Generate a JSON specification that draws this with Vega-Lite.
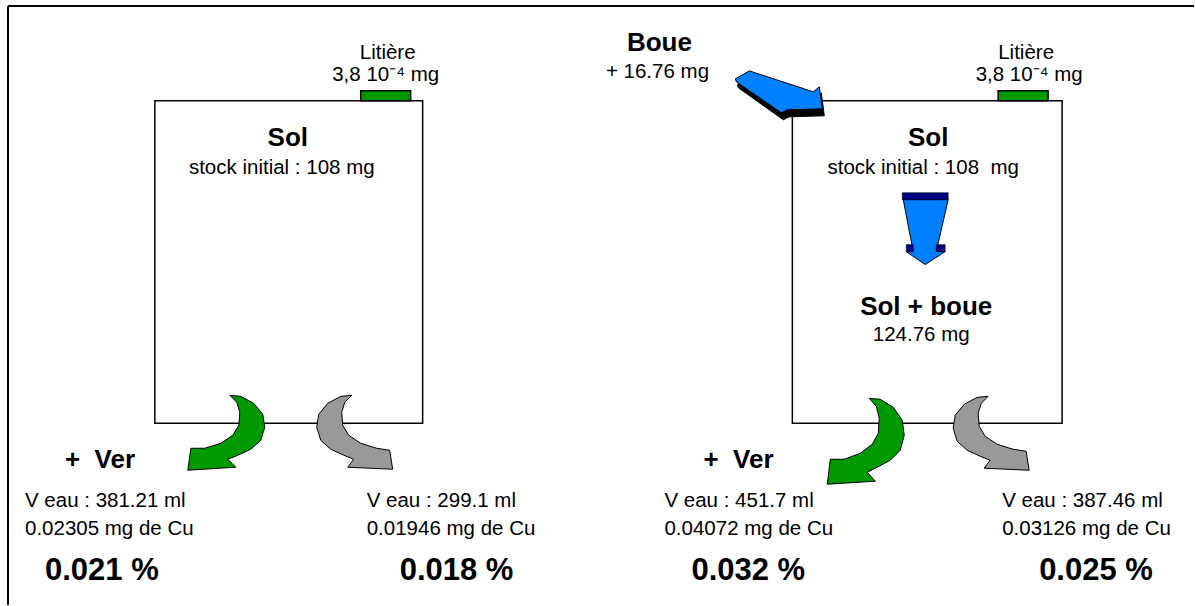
{
  "$schema": "https://vega.github.io/schema/vega-lite/v6.json",
  "width": 1195,
  "height": 606,
  "autosize": {"type": "fit", "contains": "padding"},
  "padding": 0,
  "background": "white",
  "config": {"view": {"stroke": null}},
  "datasets": {
    "frame": [
      {"x": 8, "y": 6, "x2": 1195, "y2": 6},
      {"x": 8, "y": 6, "x2": 8, "y2": 606}
    ],
    "boxes": [
      {"x": 155, "x2": 423, "y": 101, "y2": 424},
      {"x": 793, "x2": 1063, "y": 101, "y2": 424}
    ],
    "litiere": [
      {"x": 361, "x2": 411, "y": 91, "y2": 101},
      {"x": 999, "x2": 1049, "y": 91, "y2": 101}
    ],
    "green": [
      {"id": "L", "i": 1, "x": 230, "y": 396}, {"id": "L", "i": 2, "x": 241, "y": 397}, {"id": "L", "i": 3, "x": 254, "y": 404},
      {"id": "L", "i": 4, "x": 263, "y": 415}, {"id": "L", "i": 5, "x": 265, "y": 428}, {"id": "L", "i": 6, "x": 261, "y": 441},
      {"id": "L", "i": 7, "x": 251, "y": 450}, {"id": "L", "i": 8, "x": 238, "y": 456}, {"id": "L", "i": 9, "x": 228, "y": 460},
      {"id": "L", "i": 10, "x": 236, "y": 468}, {"id": "L", "i": 11, "x": 188, "y": 471}, {"id": "L", "i": 12, "x": 191, "y": 449},
      {"id": "L", "i": 13, "x": 205, "y": 449}, {"id": "L", "i": 14, "x": 221, "y": 444}, {"id": "L", "i": 15, "x": 233, "y": 436},
      {"id": "L", "i": 16, "x": 239, "y": 426}, {"id": "L", "i": 17, "x": 240, "y": 413}, {"id": "L", "i": 18, "x": 237, "y": 403},
      {"id": "R", "i": 1, "x": 870, "y": 399}, {"id": "R", "i": 2, "x": 881, "y": 400}, {"id": "R", "i": 3, "x": 894, "y": 408},
      {"id": "R", "i": 4, "x": 903, "y": 421}, {"id": "R", "i": 5, "x": 905, "y": 436}, {"id": "R", "i": 6, "x": 901, "y": 451},
      {"id": "R", "i": 7, "x": 891, "y": 461}, {"id": "R", "i": 8, "x": 878, "y": 468}, {"id": "R", "i": 9, "x": 868, "y": 473},
      {"id": "R", "i": 10, "x": 876, "y": 482}, {"id": "R", "i": 11, "x": 828, "y": 485}, {"id": "R", "i": 12, "x": 831, "y": 460},
      {"id": "R", "i": 13, "x": 845, "y": 460}, {"id": "R", "i": 14, "x": 861, "y": 454}, {"id": "R", "i": 15, "x": 873, "y": 445},
      {"id": "R", "i": 16, "x": 879, "y": 434}, {"id": "R", "i": 17, "x": 880, "y": 419}, {"id": "R", "i": 18, "x": 877, "y": 407}
    ],
    "gray": [
      {"id": "L", "i": 1, "x": 352, "y": 396}, {"id": "L", "i": 2, "x": 341, "y": 397}, {"id": "L", "i": 3, "x": 328, "y": 404},
      {"id": "L", "i": 4, "x": 319, "y": 415}, {"id": "L", "i": 5, "x": 317, "y": 428}, {"id": "L", "i": 6, "x": 321, "y": 441},
      {"id": "L", "i": 7, "x": 331, "y": 450}, {"id": "L", "i": 8, "x": 344, "y": 456}, {"id": "L", "i": 9, "x": 354, "y": 460},
      {"id": "L", "i": 10, "x": 348, "y": 468}, {"id": "L", "i": 11, "x": 393, "y": 470}, {"id": "L", "i": 12, "x": 390, "y": 451},
      {"id": "L", "i": 13, "x": 377, "y": 449}, {"id": "L", "i": 14, "x": 361, "y": 444}, {"id": "L", "i": 15, "x": 349, "y": 436},
      {"id": "L", "i": 16, "x": 343, "y": 426}, {"id": "L", "i": 17, "x": 342, "y": 413}, {"id": "L", "i": 18, "x": 345, "y": 403},
      {"id": "R", "i": 1, "x": 989, "y": 397}, {"id": "R", "i": 2, "x": 978, "y": 398}, {"id": "R", "i": 3, "x": 965, "y": 405},
      {"id": "R", "i": 4, "x": 956, "y": 416}, {"id": "R", "i": 5, "x": 954, "y": 429}, {"id": "R", "i": 6, "x": 958, "y": 442},
      {"id": "R", "i": 7, "x": 968, "y": 451}, {"id": "R", "i": 8, "x": 981, "y": 457}, {"id": "R", "i": 9, "x": 991, "y": 461},
      {"id": "R", "i": 10, "x": 985, "y": 469}, {"id": "R", "i": 11, "x": 1030, "y": 471}, {"id": "R", "i": 12, "x": 1027, "y": 452},
      {"id": "R", "i": 13, "x": 1014, "y": 450}, {"id": "R", "i": 14, "x": 998, "y": 445}, {"id": "R", "i": 15, "x": 986, "y": 437},
      {"id": "R", "i": 16, "x": 980, "y": 427}, {"id": "R", "i": 17, "x": 979, "y": 414}, {"id": "R", "i": 18, "x": 982, "y": 404}
    ],
    "boueShadow": [
      {"id": "S", "i": 1, "x": 738, "y": 85}, {"id": "S", "i": 2, "x": 752, "y": 77}, {"id": "S", "i": 3, "x": 816, "y": 98},
      {"id": "S", "i": 4, "x": 822, "y": 93}, {"id": "S", "i": 5, "x": 825, "y": 116}, {"id": "S", "i": 6, "x": 790, "y": 117},
      {"id": "S", "i": 7, "x": 784, "y": 120}, {"id": "S", "i": 8, "x": 739, "y": 88}
    ],
    "boue": [
      {"id": "B", "i": 1, "x": 736, "y": 79}, {"id": "B", "i": 2, "x": 750, "y": 71}, {"id": "B", "i": 3, "x": 814, "y": 92},
      {"id": "B", "i": 4, "x": 820, "y": 87}, {"id": "B", "i": 5, "x": 823, "y": 109}, {"id": "B", "i": 6, "x": 788, "y": 110},
      {"id": "B", "i": 7, "x": 782, "y": 113}, {"id": "B", "i": 8, "x": 737, "y": 82},
      {"id": "D", "i": 1, "x": 904, "y": 200}, {"id": "D", "i": 2, "x": 949, "y": 200}, {"id": "D", "i": 3, "x": 937, "y": 252},
      {"id": "D", "i": 4, "x": 946, "y": 252}, {"id": "D", "i": 5, "x": 926, "y": 265}, {"id": "D", "i": 6, "x": 907, "y": 252},
      {"id": "D", "i": 7, "x": 914, "y": 252}
    ],
    "navy": [
      {"x": 903, "x2": 949, "y": 193, "y2": 200},
      {"x": 907, "x2": 914, "y": 245, "y2": 252},
      {"x": 937, "x2": 946, "y": 245, "y2": 252}
    ],
    "regCenter": [
      {"t": "Litière", "x": 388, "y": 53},
      {"t": "3,8 10⁻⁴ mg", "x": 386, "y": 75},
      {"t": "stock initial : 108 mg", "x": 282, "y": 168},
      {"t": "Litière", "x": 1027, "y": 53},
      {"t": "3,8 10⁻⁴ mg", "x": 1030, "y": 75},
      {"t": "stock initial : 108\u00a0 mg", "x": 924, "y": 168},
      {"t": "+ 16.76 mg", "x": 658, "y": 72},
      {"t": "124.76 mg", "x": 922, "y": 336}
    ],
    "boldCenter": [
      {"t": "Sol", "x": 288, "y": 138},
      {"t": "Sol", "x": 929, "y": 138},
      {"t": "Boue", "x": 660, "y": 43},
      {"t": "Sol + boue", "x": 927, "y": 308}
    ],
    "boldLeft": [
      {"t": "+\u00a0 Ver", "x": 65, "y": 461},
      {"t": "+\u00a0 Ver", "x": 704, "y": 461}
    ],
    "regLeft": [
      {"t": "V eau : 381.21 ml", "x": 25, "y": 502},
      {"t": "0.02305 mg de Cu", "x": 25, "y": 530},
      {"t": "V eau : 299.1 ml", "x": 367, "y": 502},
      {"t": "0.01946 mg de Cu", "x": 367, "y": 530},
      {"t": "V eau : 451.7 ml", "x": 665, "y": 502},
      {"t": "0.04072 mg de Cu", "x": 665, "y": 530},
      {"t": "V eau : 387.46 ml", "x": 1003, "y": 502},
      {"t": "0.03126 mg de Cu", "x": 1003, "y": 530}
    ],
    "pctLeft": [
      {"t": "0.021 %", "x": 45, "y": 572},
      {"t": "0.018 %", "x": 400, "y": 572},
      {"t": "0.032 %", "x": 692, "y": 572},
      {"t": "0.025 %", "x": 1040, "y": 572}
    ]
  },
  "encoding": {
    "x": {"field": "x", "type": "quantitative", "scale": {"domain": [0, 1195], "nice": false, "zero": false}, "axis": null},
    "y": {"field": "y", "type": "quantitative", "scale": {"domain": [0, 606], "nice": false, "zero": false, "reverse": true}, "axis": null}
  },
  "layer": [
    {
      "data": {"name": "frame"},
      "mark": {"type": "rule", "color": "black", "strokeWidth": 2},
      "encoding": {"x2": {"field": "x2"}, "y2": {"field": "y2"}}
    },
    {
      "data": {"name": "boxes"},
      "mark": {"type": "rect", "fill": "white", "stroke": "black", "strokeWidth": 1.5},
      "encoding": {"x2": {"field": "x2"}, "y2": {"field": "y2"}}
    },
    {
      "data": {"name": "litiere"},
      "mark": {"type": "rect", "fill": "#009900", "stroke": "black", "strokeWidth": 1.5},
      "encoding": {"x2": {"field": "x2"}, "y2": {"field": "y2"}}
    },
    {
      "data": {"name": "green"},
      "mark": {"type": "line", "interpolate": "linear-closed", "fill": "#009900", "stroke": "black", "strokeWidth": 1},
      "encoding": {"order": {"field": "i", "type": "quantitative"}, "detail": {"field": "id"}}
    },
    {
      "data": {"name": "gray"},
      "mark": {"type": "line", "interpolate": "linear-closed", "fill": "#999999", "stroke": "black", "strokeWidth": 1},
      "encoding": {"order": {"field": "i", "type": "quantitative"}, "detail": {"field": "id"}}
    },
    {
      "data": {"name": "boueShadow"},
      "mark": {"type": "line", "interpolate": "linear-closed", "fill": "black", "stroke": "black", "strokeWidth": 1},
      "encoding": {"order": {"field": "i", "type": "quantitative"}, "detail": {"field": "id"}}
    },
    {
      "data": {"name": "boue"},
      "mark": {"type": "line", "interpolate": "linear-closed", "fill": "#0080ff", "stroke": "black", "strokeWidth": 1},
      "encoding": {"order": {"field": "i", "type": "quantitative"}, "detail": {"field": "id"}}
    },
    {
      "data": {"name": "navy"},
      "mark": {"type": "rect", "fill": "#000080", "stroke": "black", "strokeWidth": 0.5},
      "encoding": {"x2": {"field": "x2"}, "y2": {"field": "y2"}}
    },
    {
      "data": {"name": "regCenter"},
      "mark": {"type": "text", "font": "Liberation Sans", "fontSize": 20.5, "align": "center", "baseline": "middle", "color": "black"},
      "encoding": {"text": {"field": "t"}}
    },
    {
      "data": {"name": "boldCenter"},
      "mark": {"type": "text", "font": "Liberation Sans", "fontSize": 26, "fontWeight": "bold", "align": "center", "baseline": "middle", "color": "black"},
      "encoding": {"text": {"field": "t"}}
    },
    {
      "data": {"name": "boldLeft"},
      "mark": {"type": "text", "font": "Liberation Sans", "fontSize": 26, "fontWeight": "bold", "align": "left", "baseline": "middle", "color": "black"},
      "encoding": {"text": {"field": "t"}}
    },
    {
      "data": {"name": "regLeft"},
      "mark": {"type": "text", "font": "Liberation Sans", "fontSize": 20.5, "align": "left", "baseline": "middle", "color": "black"},
      "encoding": {"text": {"field": "t"}}
    },
    {
      "data": {"name": "pctLeft"},
      "mark": {"type": "text", "font": "Liberation Sans", "fontSize": 31, "fontWeight": "bold", "align": "left", "baseline": "middle", "color": "black"},
      "encoding": {"text": {"field": "t"}}
    }
  ]
}
